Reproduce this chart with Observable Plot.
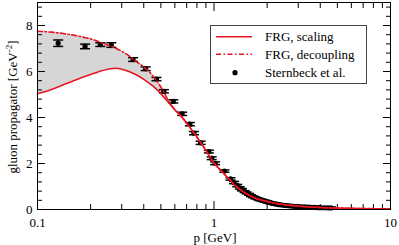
<!DOCTYPE html>
<html><head><meta charset="utf-8">
<script src="https://cdn.jsdelivr.net/npm/d3@7"></script>
<script src="https://cdn.jsdelivr.net/npm/@observablehq/plot@0.6"></script>
<style>body{margin:0;background:#fff}</style>
</head><body><div id="chart"></div>
<script>
// FRG curves (momentum p in GeV, propagator in GeV^-2)
const curveP      = [0.1, 0.12, 0.14, 0.16, 0.18, 0.2, 0.22, 0.25, 0.28, 0.3, 0.33, 0.36, 0.4, 0.44, 0.48, 0.52, 0.56, 0.6, 0.65, 0.7, 0.75, 0.8, 0.9, 1.0, 1.1, 1.2, 1.35, 1.5, 1.7, 2.0, 2.3, 2.7, 3.2, 4.0, 5.0, 6.5, 8.0, 10.0];
const scalingD    = [5.03, 5.22, 5.42, 5.6, 5.75, 5.87, 5.98, 6.1, 6.14, 6.1, 6.0, 5.87, 5.66, 5.43, 5.18, 4.88, 4.6, 4.34, 4.06, 3.76, 3.45, 3.15, 2.57, 2.02, 1.68, 1.37, 0.97, 0.72, 0.5, 0.35, 0.25, 0.18, 0.13, 0.09, 0.065, 0.045, 0.035, 0.03];
const decouplingD = [7.75, 7.71, 7.65, 7.58, 7.5, 7.42, 7.31, 7.15, 7.0, 6.88, 6.68, 6.45, 6.2, 5.9, 5.53, 5.1, 4.64, 4.34, 4.06, 3.76, 3.45, 3.15, 2.57, 2.02, 1.68, 1.37, 0.97, 0.72, 0.5, 0.35, 0.25, 0.18, 0.13, 0.09, 0.065, 0.045, 0.035, 0.03];
// Lattice data (Sternbeck et al.)
const latticeP   = [0.131, 0.186, 0.227, 0.262, 0.348, 0.41, 0.472, 0.52, 0.588, 0.66, 0.73, 0.77, 0.84, 0.935, 0.97, 1.015, 1.145, 1.24, 1.3, 1.355, 1.4, 1.44, 1.49, 1.53, 1.58, 1.62, 1.67, 1.72, 1.78, 1.83, 1.89, 1.95, 2.01, 2.07, 2.13, 2.2, 2.27, 2.34, 2.42, 2.5, 2.58, 2.66, 2.75, 2.84, 2.93, 3.03, 3.13, 3.24, 3.35, 3.46, 3.58, 3.7, 3.82, 3.95, 4.1, 4.25, 4.42, 4.6];
const latticeD   = [7.23, 7.09, 7.17, 7.15, 6.52, 6.12, 5.67, 5.14, 4.7, 4.16, 3.71, 3.32, 2.9, 2.52, 2.23, 2.01, 1.67, 1.33, 1.17, 1.04, 0.94, 0.86, 0.78, 0.72, 0.66, 0.6, 0.55, 0.5, 0.46, 0.42, 0.39, 0.36, 0.33, 0.3, 0.27, 0.25, 0.23, 0.21, 0.195, 0.18, 0.17, 0.16, 0.15, 0.14, 0.132, 0.125, 0.117, 0.11, 0.105, 0.1, 0.095, 0.09, 0.085, 0.08, 0.077, 0.075, 0.072, 0.07];
const latticeErr = [0.14, 0.1, 0.08, 0.1, 0.08, 0.08, 0.07, 0.07, 0.07, 0.07, 0.07, 0.07, 0.07, 0.06, 0.06, 0.06, 0.05, 0.05, 0.05, 0.05, 0.05, 0.05, 0.04, 0.04, 0.04, 0.04, 0.04, 0.04, 0.04, 0.04, 0.04, 0.04, 0.04, 0.04, 0.04, 0.04, 0.04, 0.04, 0.04, 0.04, 0.04, 0.04, 0.04, 0.04, 0.04, 0.04, 0.04, 0.04, 0.04, 0.04, 0.04, 0.04, 0.04, 0.04, 0.04, 0.04, 0.04, 0.04];
// Ticks and labels
const xMajorTicks = [0.1, 1, 10];
const xMinorTicks = [0.2, 0.3, 0.4, 0.5, 0.6, 0.7, 0.8, 0.9, 2, 3, 4, 5, 6, 7, 8, 9];
const yMajorTicks = [0, 2, 4, 6, 8];
const yMinorTicks = [0.4, 0.8, 1.2, 1.6, 2.4, 2.8, 3.2, 3.6, 4.4, 4.8, 5.2, 5.6, 6.4, 6.8, 7.2, 7.6, 8.4, 8.8];
const legendLabels = ["FRG, scaling", "FRG, decoupling", "Sternbeck et al."];
const xTitle = "p [GeV]";
const yTitle = "gluon propagator [GeV";

const RED = "#e8141f";
const curves = curveP.map((p, i) => ({p, s: scalingD[i], d: decouplingD[i]}));
const lattice = latticeP.map((p, i) => ({p, D: latticeD[i], lo: latticeD[i] - latticeErr[i], hi: latticeD[i] + latticeErr[i]}));
const hbar = {draw(ctx) { ctx.moveTo(-5, 0); ctx.lineTo(5, 0); }};

const tickAxes = [];
for (const [anchor, ticks, size] of [["bottom", xMajorTicks, 8], ["bottom", xMinorTicks, 5], ["top", xMajorTicks, 8], ["top", xMinorTicks, 5]]) {
  tickAxes.push(Plot.axisX({anchor, ticks, tickSize: -size, tickFormat: () => "", label: null}));
}
for (const [anchor, ticks, size] of [["left", yMajorTicks, 8], ["left", yMinorTicks, 5], ["right", yMajorTicks, 8], ["right", yMinorTicks, 5]]) {
  tickAxes.push(Plot.axisY({anchor, ticks, tickSize: -size, tickFormat: () => "", label: null}));
}

const chart = Plot.plot({
  width: 399, height: 245,
  marginLeft: 37, marginRight: 9, marginTop: 2, marginBottom: 36,
  style: {fontFamily: "Liberation Serif, serif", fontSize: "13px", background: "white", color: "black"},
  x: {type: "log", domain: [0.1, 10]},
  y: {domain: [0, 9]},
  marks: [
    Plot.areaY(curves, {x: "p", y1: "s", y2: "d", fill: "#d6d6d6", curve: "monotone-x"}),
    ...tickAxes,
    Plot.axisX({anchor: "bottom", ticks: xMajorTicks, tickSize: 0, tickPadding: 8, tickFormat: d => String(d), label: null}),
    Plot.axisY({anchor: "left", ticks: yMajorTicks, tickSize: 0, tickPadding: 5, tickFormat: d => String(d), label: null}),
    Plot.ruleX(lattice, {x: "p", y1: "lo", y2: "hi", stroke: "black", strokeWidth: 1.2}),
    Plot.dot(lattice, {x: "p", y: "lo", symbol: hbar, fill: "none", stroke: "black", strokeWidth: 1.5}),
    Plot.dot(lattice, {x: "p", y: "hi", symbol: hbar, fill: "none", stroke: "black", strokeWidth: 1.5}),
    Plot.dot(lattice, {x: "p", y: "D", r: 2.6, fill: "black", stroke: "none"}),
    Plot.line(curves, {x: "p", y: "d", stroke: RED, strokeWidth: 1.6, strokeDasharray: "5,2.5,1.5,2.5", curve: "monotone-x"}),
    Plot.line(curves, {x: "p", y: "s", stroke: RED, strokeWidth: 1.6, curve: "monotone-x"}),
    Plot.frame({stroke: "black", strokeWidth: 1})
  ]
});
document.getElementById("chart").appendChild(chart);

const svg = d3.select(chart);
const font = "Liberation Serif, serif";
// axis titles
svg.append("text").attr("x", 215).attr("y", 237).attr("text-anchor", "middle")
  .attr("dominant-baseline", "central").attr("font-family", font).attr("font-size", 13).text(xTitle);
const yt = svg.append("text").attr("transform", "translate(12,107) rotate(-90)").attr("text-anchor", "middle")
  .attr("font-family", font).attr("font-size", 13).attr("dy", "0.35em");
yt.append("tspan").text(yTitle);
yt.append("tspan").attr("font-size", 9).attr("dy", -5).text("-2");
yt.append("tspan").attr("dy", 5).text("]");
// legend
const lg = svg.append("g").attr("text-anchor", "start");
lg.append("rect").attr("x", 210.5).attr("y", 25.5).attr("width", 156).attr("height", 58)
  .attr("fill", "white").attr("stroke", "#444").attr("stroke-width", 1);
const ly = [36.7, 54.3, 72.7];
lg.append("line").attr("x1", 216).attr("x2", 252).attr("y1", ly[0]).attr("y2", ly[0]).attr("stroke", RED).attr("stroke-width", 1.6);
lg.append("line").attr("x1", 216).attr("x2", 252).attr("y1", ly[1]).attr("y2", ly[1]).attr("stroke", RED).attr("stroke-width", 1.6).attr("stroke-dasharray", "5,2.5,1.5,2.5");
lg.append("circle").attr("cx", 235).attr("cy", ly[2]).attr("r", 2.6).attr("fill", "black");
legendLabels.forEach((t, i) => {
  lg.append("text").attr("x", 265).attr("y", ly[i]).attr("dy", "0.35em").attr("text-anchor", "start")
    .attr("font-family", font).attr("font-size", 13).text(t);
});
</script></body></html>
